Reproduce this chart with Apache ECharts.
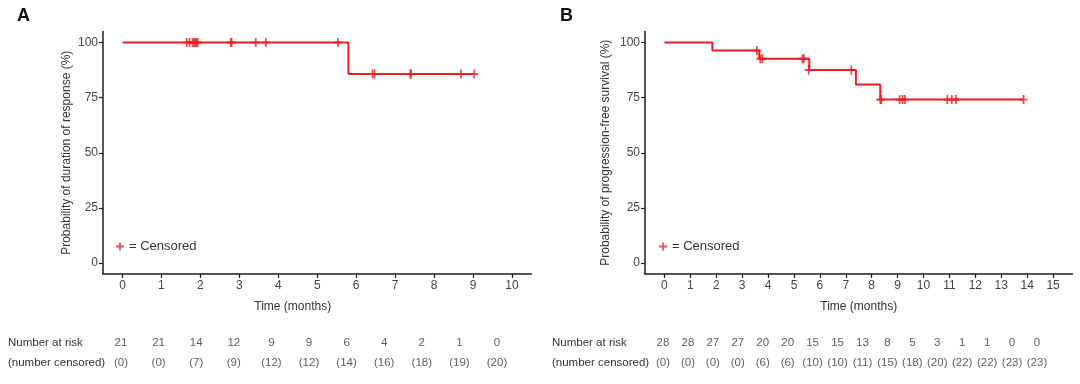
<!DOCTYPE html>
<html>
<head>
<meta charset="utf-8">
<script src="https://cdn.jsdelivr.net/npm/echarts@6/dist/echarts.min.js"></script>
<style>
html,body{margin:0;padding:0;background:#fff;}
#c{width:1080px;height:384px;}
</style>
</head>
<body>
<div id="c"></div>
<script>
// ---- Data ----
var kmTimesA = [0, 5.8, 9.03];
var kmSurvA  = [100, 85.7, 85.7];
var censTimesA = [1.65, 1.72, 1.8, 1.84, 1.87, 1.9, 1.93, 2.78, 2.8, 3.42, 3.68, 5.53, 6.42, 6.47, 7.39, 7.41, 8.69, 9.03];
var censSurvA  = [100, 100, 100, 100, 100, 100, 100, 100, 100, 100, 100, 100, 85.7, 85.7, 85.7, 85.7, 85.7, 85.7];

var kmTimesB = [0, 1.85, 3.66, 5.59, 7.39, 8.33, 13.86];
var kmSurvB  = [100, 96.4, 92.6, 87.5, 81.0, 74.1, 74.1];
var censTimesB = [3.57, 3.7, 3.78, 5.33, 5.38, 5.57, 7.21, 8.33, 8.37, 9.08, 9.19, 9.28, 10.92, 11.09, 11.25, 13.86];
var censSurvB  = [96.4, 92.6, 92.6, 92.6, 92.6, 87.5, 87.5, 74.1, 74.1, 74.1, 74.1, 74.1, 74.1, 74.1, 74.1, 74.1];

var xTicksA = [0,1,2,3,4,5,6,7,8,9,10];
var xTicksB = [0,1,2,3,4,5,6,7,8,9,10,11,12,13,14,15];
var yTicks = [0,25,50,75,100];

var riskTimesA = [0,1,2,3,4,5,6,7,8,9,10];
var riskA = [21,21,14,12,9,9,6,4,2,1,0];
var censA = [0,0,7,9,12,12,14,16,18,19,20];
var riskTimesB = [0,1,2,3,4,5,6,7,8,9,10,11,12,13,14,15];
var riskB = [28,28,27,27,20,20,15,15,13,8,5,3,1,1,0,0];
var censB = [0,0,0,0,6,6,10,10,11,15,18,20,22,22,23,23];

var rowLabels = ['(number censored)', 'Number at risk'];

// ---- Styling ----
var FONT = 'Liberation Sans, Arial, Helvetica, sans-serif';
var RED = '#f01a22';
var AX = '#1e1e1e';
var LBL = '#444444';
var PLUS = 'path://M-1.1,-5 L1.1,-5 L1.1,-1.1 L5,-1.1 L5,1.1 L1.1,1.1 L1.1,5 L-1.1,5 L-1.1,1.1 L-5,1.1 L-5,-1.1 L-1.1,-1.1 Z';

function zip(a, b){ return a.map(function(v,i){ return [v, b[i]]; }); }

function plotX(grid, min, max, ticks, padRight){
  return {
    gridIndex: grid, type: 'value', min: min, max: max,
    name: 'Time (months)', nameLocation: 'middle', nameGap: 27,
    nameTextStyle: {fontFamily: FONT, fontSize: 12, color: '#333', padding: [0, padRight, 0, 0]},
    axisLine: {show: true, onZero: false, lineStyle: {color: AX, width: 1.5}},
    axisTick: {show: true, length: 4, customValues: ticks, lineStyle: {color: AX, width: 1.2}},
    axisLabel: {customValues: ticks, margin: 6, fontFamily: FONT, fontSize: 12, color: LBL},
    splitLine: {show: false}
  };
}
function plotY(grid, name, gap){
  return {
    gridIndex: grid, type: 'value', min: -5, max: 105,
    name: name, nameLocation: 'middle', nameGap: gap,
    nameTextStyle: {fontFamily: FONT, fontSize: 12, color: '#333'},
    axisLine: {show: true, onZero: false, lineStyle: {color: AX, width: 1.5}},
    axisTick: {show: true, length: 4, customValues: yTicks, lineStyle: {color: AX, width: 1.2}},
    axisLabel: {customValues: yTicks, margin: 5, fontFamily: FONT, fontSize: 12, color: LBL},
    splitLine: {show: false}
  };
}
function riskX(grid, max){
  return {gridIndex: grid, type: 'value', min: 0, max: max, show: false};
}
function riskY(grid, margin){
  return {
    gridIndex: grid, type: 'category', data: rowLabels, boundaryGap: false,
    axisLine: {show: false}, axisTick: {show: false}, splitLine: {show: false},
    axisLabel: {align: 'left', margin: margin, fontFamily: FONT, fontSize: 11.5, color: '#333'}
  };
}
function riskSeries(xi, times, risk, cens){
  var data = [];
  times.forEach(function(t, i){
    data.push({value: [t, 1], txt: String(risk[i])});
    data.push({value: [t, 0], txt: '(' + cens[i] + ')'});
  });
  return {
    type: 'scatter', xAxisIndex: xi, yAxisIndex: xi, symbolSize: 1,
    itemStyle: {color: 'rgba(0,0,0,0)'}, silent: true,
    label: {show: true, position: 'inside', fontFamily: FONT, fontSize: 11.5, color: '#333',
      formatter: function(p){ return p.data.txt; }},
    data: data
  };
}

var option = {
  animation: false,
  backgroundColor: '#fff',
  title: [
    {text: 'A', left: 12, top: 2, textStyle: {fontFamily: FONT, fontSize: 18, fontWeight: 'bold', color: '#111'}},
    {text: 'B', left: 555, top: 2, textStyle: {fontFamily: FONT, fontSize: 18, fontWeight: 'bold', color: '#111'}}
  ],
  legend: [
    {left: 116, top: 240, padding: 0, selectedMode: false, itemWidth: 8, itemHeight: 8, itemGap: 0,
     data: [{name: '= Censored', icon: PLUS, itemStyle: {color: RED}}],
     textStyle: {fontFamily: FONT, fontSize: 13, color: '#333'}},
    {left: 659, top: 240, padding: 0, selectedMode: false, itemWidth: 8, itemHeight: 8, itemGap: 0,
     data: [{name: '= Censored', icon: PLUS, itemStyle: {color: RED}}],
     textStyle: {fontFamily: FONT, fontSize: 13, color: '#333'}}
  ],
  grid: [
    {left: 103, top: 31.5, width: 428.5, height: 242.5},
    {left: 645, top: 31.5, width: 427.5, height: 242.5},
    {left: 121, top: 342.7, width: 376, height: 20.6},
    {left: 663, top: 342.7, width: 374, height: 20.6}
  ],
  xAxis: [
    plotX(0, -0.5, 10.5, xTicksA, 49),
    plotX(1, -0.75, 15.75, xTicksB, 0),
    riskX(2, 10),
    riskX(3, 15)
  ],
  yAxis: [
    plotY(0, 'Probability of duration of response (%)', 30),
    plotY(1, 'Probability of progression-free survival (%)', 33),
    riskY(2, 113),
    riskY(3, 111)
  ],
  series: [
    {type: 'line', xAxisIndex: 0, yAxisIndex: 0, step: 'end', symbol: 'none', silent: true,
     lineStyle: {color: RED, width: 2}, data: zip(kmTimesA, kmSurvA)},
    {type: 'scatter', name: '= Censored', xAxisIndex: 0, yAxisIndex: 0, symbol: PLUS, symbolSize: [8, 9],
     itemStyle: {color: RED}, silent: true, data: zip(censTimesA, censSurvA)},
    {type: 'line', xAxisIndex: 1, yAxisIndex: 1, step: 'end', symbol: 'none', silent: true,
     lineStyle: {color: RED, width: 2}, data: zip(kmTimesB, kmSurvB)},
    {type: 'scatter', name: '= Censored', xAxisIndex: 1, yAxisIndex: 1, symbol: PLUS, symbolSize: [8, 9],
     itemStyle: {color: RED}, silent: true, data: zip(censTimesB, censSurvB)},
    riskSeries(2, riskTimesA, riskA, censA),
    riskSeries(3, riskTimesB, riskB, censB)
  ]
};

var chart = echarts.init(document.getElementById('c'), null, {renderer: 'canvas'});
chart.setOption(option);
</script>
</body>
</html>
